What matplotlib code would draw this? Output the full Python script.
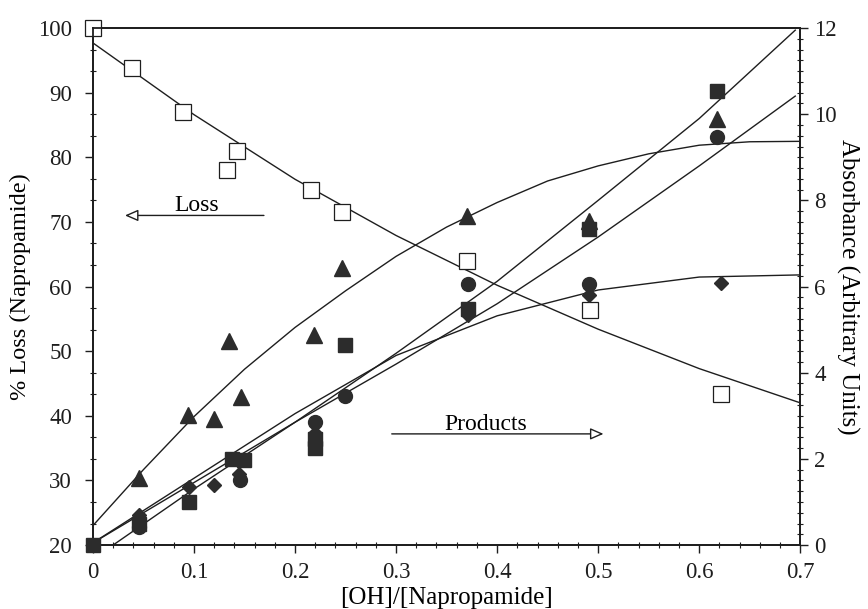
import matplotlib
matplotlib.use("Agg")
import matplotlib.pyplot as plt
from matplotlib.ticker import MultipleLocator

plt.rcParams['font.family'] = ['Liberation Serif', 'DejaVu Serif']

# ---- data ----
# % loss of napropamide (open squares, left axis)
loss_x = [0.0, 0.039, 0.089, 0.133, 0.143, 0.216, 0.247, 0.370, 0.492, 0.622]
loss_y = [100.0, 93.8, 87.0, 78.0, 80.9, 74.9, 71.5, 64.0, 56.3, 43.3]

# products (absorbance, right axis)
tri_x = [0.046, 0.094, 0.120, 0.135, 0.147, 0.219, 0.247, 0.370, 0.491, 0.618]
tri_y = [1.56, 3.02, 2.93, 4.74, 3.44, 4.88, 6.44, 7.63, 7.52, 9.88]

sq_x = [0.0, 0.046, 0.095, 0.138, 0.150, 0.220, 0.220, 0.249, 0.371, 0.491, 0.618]
sq_y = [0.0, 0.50, 1.00, 2.00, 1.98, 2.45, 2.25, 4.65, 5.47, 7.33, 10.53]

circ_x = [0.046, 0.146, 0.220, 0.249, 0.371, 0.491, 0.618]
circ_y = [0.42, 1.50, 2.85, 3.45, 6.07, 6.05, 9.47]

dia_x = [0.046, 0.095, 0.120, 0.145, 0.220, 0.371, 0.491, 0.622]
dia_y = [0.70, 1.35, 1.40, 1.65, 2.60, 5.35, 5.81, 6.09]

# fitted curves as drawn in the figure
loss_curve_x = [0.0, 0.1, 0.2, 0.3, 0.4, 0.5, 0.6, 0.7]
loss_curve_y = [97.7, 86.6, 76.6, 67.9, 60.2, 53.4, 47.3, 42.0]

tri_curve_x = [0.0, 0.05, 0.1, 0.15, 0.2, 0.25, 0.3, 0.35, 0.4, 0.45, 0.5, 0.55, 0.6, 0.65, 0.7]
tri_curve_y = [0.45, 1.75, 2.98, 4.08, 5.05, 5.90, 6.70, 7.38, 7.95, 8.45, 8.80, 9.08, 9.28, 9.36, 9.37]

sq_curve_x = [0.02, 0.1, 0.2, 0.3, 0.4, 0.5, 0.6, 0.695]
sq_curve_y = [0.0, 1.30, 2.85, 4.45, 6.12, 8.00, 9.90, 11.95]

circ_curve_x = [0.0, 0.1, 0.2, 0.3, 0.4, 0.5, 0.6, 0.695]
circ_curve_y = [0.05, 1.45, 2.85, 4.20, 5.60, 7.15, 8.80, 10.42]

dia_curve_x = [0.0, 0.1, 0.2, 0.3, 0.4, 0.5, 0.6, 0.7]
dia_curve_y = [0.05, 1.55, 3.05, 4.40, 5.32, 5.92, 6.22, 6.27]

x_ticks = [0, 0.1, 0.2, 0.3, 0.4, 0.5, 0.6, 0.7]
x_ticklabels = ['0', '0.1', '0.2', '0.3', '0.4', '0.5', '0.6', '0.7']
left_ticks = [20, 30, 40, 50, 60, 70, 80, 90, 100]
right_ticks = [0, 2, 4, 6, 8, 10, 12]

# ---- figure ----
fig = plt.figure(figsize=(8.68, 6.09), dpi=100)
ax = fig.add_axes([0.107, 0.105, 0.815, 0.849])
ax2 = ax.twinx()

ink = '#1e1e1e'
fill = '#2c2c2c'

ax.set_xlim(0, 0.7)
ax.set_ylim(20, 100)
ax2.set_ylim(0, 12)

# loss
ax.plot(loss_curve_x, loss_curve_y, color=ink, lw=1.0)
ax.plot(loss_x, loss_y, ls='none', marker='s', ms=11, mfc='white', mec=ink,
        mew=0.9, clip_on=False, zorder=5)

# products
for cx, cy in [(tri_curve_x, tri_curve_y), (sq_curve_x, sq_curve_y),
               (circ_curve_x, circ_curve_y), (dia_curve_x, dia_curve_y)]:
    ax2.plot(cx, cy, color=ink, lw=1.0)

ax2.plot(dia_x, dia_y, ls='none', marker='D', ms=7, color=fill, clip_on=False, zorder=4)
ax2.plot(circ_x, circ_y, ls='none', marker='o', ms=10, color=fill, clip_on=False, zorder=4)
ax2.plot(tri_x, tri_y, ls='none', marker='^', ms=11, color=fill, clip_on=False, zorder=4)
ax2.plot(sq_x, sq_y, ls='none', marker='s', ms=10, color=fill, clip_on=False, zorder=4)

# annotations
arrow_kw = dict(arrowstyle='-|>,head_length=0.8,head_width=0.35', fc='white', ec=ink, lw=1.0)
ax.annotate('', xy=(0.029, 71.0), xytext=(0.172, 71.0), arrowprops=arrow_kw)
ax.text(0.103, 70.9, 'Loss', ha='center', va='bottom', fontsize=17)
ax.annotate('', xy=(0.508, 37.2), xytext=(0.293, 37.2), arrowprops=arrow_kw)
ax.text(0.389, 37.0, 'Products', ha='center', va='bottom', fontsize=17)

# ticks
ax.set_xticks(x_ticks)
ax.set_xticklabels(x_ticklabels)
ax.xaxis.set_minor_locator(MultipleLocator(0.02))
ax.set_yticks(left_ticks)
ax.yaxis.set_minor_locator(MultipleLocator(10 / 3))
ax2.set_yticks(right_ticks)
ax2.yaxis.set_minor_locator(MultipleLocator(0.25))

ax.tick_params(axis='x', which='major', direction='out', length=6, width=1.0,
               labelsize=16.5, pad=6, colors=ink, top=False)
ax.tick_params(axis='y', which='major', direction='out', length=6, width=1.0,
               labelsize=16.5, pad=9, colors=ink)
ax.tick_params(axis='both', which='minor', direction='inout', length=5, width=0.8,
               colors=ink, top=False)
ax2.tick_params(axis='y', which='major', direction='out', length=6, width=1.0,
                labelsize=16.5, pad=4, colors=ink)
ax2.tick_params(axis='y', which='minor', direction='inout', length=5, width=0.8, colors=ink)

for a in (ax, ax2):
    for s in a.spines.values():
        s.set_linewidth(1.3)
        s.set_color(ink)

ax.set_xlabel('[OH]/[Napropamide]', fontsize=18, labelpad=3)
ax.set_ylabel('% Loss (Napropamide)', fontsize=17.5, labelpad=5)
ax2.set_ylabel('Absorbance (Arbitrary Units)', fontsize=18, rotation=-90, labelpad=16)

fig.savefig('out.png', dpi=100)
